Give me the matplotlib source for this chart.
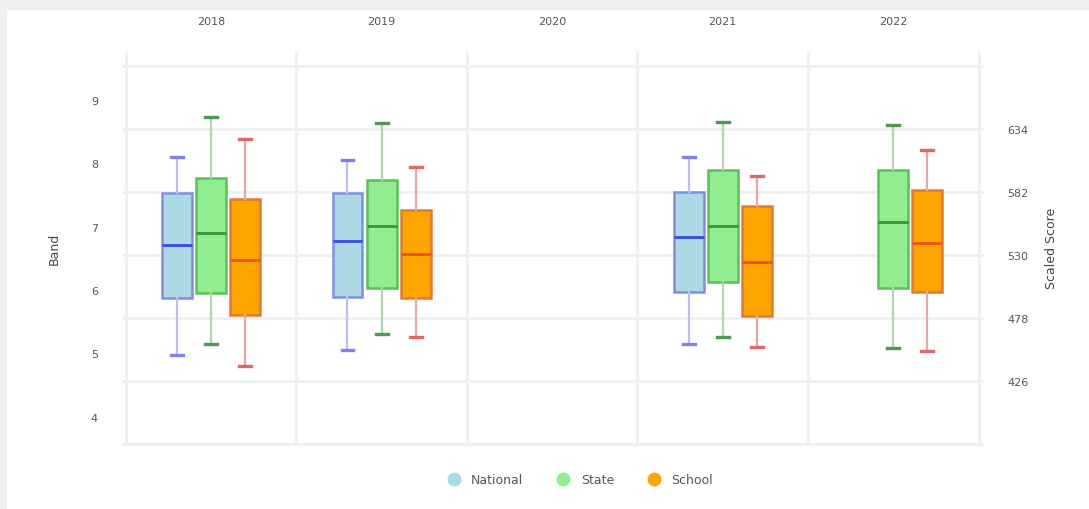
import matplotlib.pyplot as plt
from matplotlib.lines import Line2D
from matplotlib.patches import Rectangle

# data (band values)
years = ["2018", "2019", "2020", "2021", "2022"]
series = ["National", "State", "School"]

# per series: list per year of (whislo, q1, med, q3, whishi) or None
national = [(4.98, 5.88, 6.71, 7.53, 8.10),
            (5.06, 5.89, 6.78, 7.53, 8.05),
            None,
            (5.14, 5.97, 6.84, 7.55, 8.09),
            None]
state = [(5.14, 5.96, 6.90, 7.77, 8.73),
         (5.31, 6.03, 7.01, 7.74, 8.64),
         None,
         (5.26, 6.13, 7.01, 7.90, 8.65),
         (5.09, 6.03, 7.08, 7.90, 8.61)]
school = [(4.80, 5.61, 6.48, 7.44, 8.38),
          (5.26, 5.88, 6.57, 7.26, 7.94),
          None,
          (5.10, 5.59, 6.44, 7.33, 7.80),
          (5.03, 5.97, 6.74, 7.58, 8.21)]

band_ticks = [4, 5, 6, 7, 8, 9]
score_ticks = [426, 478, 530, 582, 634]
score_grid = [374, 426, 478, 530, 582, 634, 686]

styles = {
    "National": dict(face="#add8e6", edge="#7f8fe2", med="#3a48e0", whisk="#bcc0ee", cap="#8080f2"),
    "State": dict(face="#90ee90", edge="#5cbf5c", med="#2f9a2f", whisk="#afd4af", cap="#4f9a4f"),
    "School": dict(face="#ffa500", edge="#e07a3a", med="#f0501a", whisk="#e4a8a8", cap="#e06868"),
}
offsets = {"National": -0.2, "State": 0.0, "School": 0.2}

fig = plt.figure(figsize=(10.89, 5.1), dpi=100, facecolor="#f0f0f0")
fig.patches.append(Rectangle((7 / 1089, 0), 1, 1 - 11 / 510, transform=fig.transFigure,
                             facecolor="white", edgecolor="none", zorder=-5))

ax = fig.add_axes([123 / 1089, 65 / 510, (982 - 123) / 1089, (445 - 52) / 510])

# band <-> scaled score mapping
b_lo, b_hi = 3.57, 9.77
s_lo, s_hi = 374.0, 698.4
ax.set_ylim(b_lo, b_hi)
ax.set_xlim(-0.516, 4.52)

for name, data in zip(series, [national, state, school]):
    st = styles[name]
    stats, pos = [], []
    for i, v in enumerate(data):
        if v is None:
            continue
        lo, q1, med, q3, hi = v
        stats.append(dict(whislo=lo, q1=q1, med=med, q3=q3, whishi=hi, fliers=[]))
        pos.append(i + offsets[name])
    ax.bxp(stats, positions=pos, widths=0.175, patch_artist=True, showfliers=False,
           capwidths=0.07,
           boxprops=dict(facecolor=st["face"], edgecolor=st["edge"], linewidth=1.8),
           medianprops=dict(color=st["med"], linewidth=2.0),
           whiskerprops=dict(color=st["whisk"], linewidth=1.6),
           capprops=dict(color=st["cap"], linewidth=2.4),
           zorder=3)

# grid on the scaled score axis
ax2 = ax.twinx()
ax2.set_ylim(s_lo, s_hi)
for s in score_grid:
    ax2.axhline(s, color="#f0f0f0", linewidth=2, zorder=0, clip_on=False)
for x in [-0.5, 0.5, 1.5, 2.5, 3.5, 4.5]:
    ax.axvline(x, color="#f0f0f0", linewidth=2, zorder=0)
ax2.set_zorder(0)
ax.set_zorder(1)
ax.patch.set_visible(False)
ax2.set_facecolor("white")

ax.set_yticks(band_ticks)
ax.set_yticklabels([str(t) for t in band_ticks])
ax2.set_yticks(score_ticks)
ax2.set_yticklabels([str(t) for t in score_ticks])

ax.set_xticks(range(len(years)))
ax.set_xticklabels(years)
ax.xaxis.tick_top()
ax.tick_params(axis="x", length=0, pad=18, labelsize=8, labelcolor="#555555")
ax.tick_params(axis="y", length=0, pad=18, labelsize=8, labelcolor="#555555")
ax2.tick_params(axis="y", length=0, pad=18, labelsize=8, labelcolor="#555555")

for a in (ax, ax2):
    for sp in a.spines.values():
        sp.set_visible(False)

ax.set_ylabel("Band", fontsize=9, color="#444444", labelpad=22)
ax2.set_ylabel("Scaled Score", fontsize=9, color="#444444", labelpad=12)

handles = [Line2D([], [], marker="o", linestyle="none", markersize=10,
                  markerfacecolor=styles[n]["face"], markeredgecolor="none", label=n)
           for n in series]
fig.legend(handles=handles, loc="center", bbox_to_anchor=(0.53, 1 - 481 / 510),
           ncol=3, frameon=False, fontsize=9, labelcolor="#555555",
           handletextpad=0.4, columnspacing=2.2)

fig.savefig("out.png", dpi=100, facecolor=fig.get_facecolor())
